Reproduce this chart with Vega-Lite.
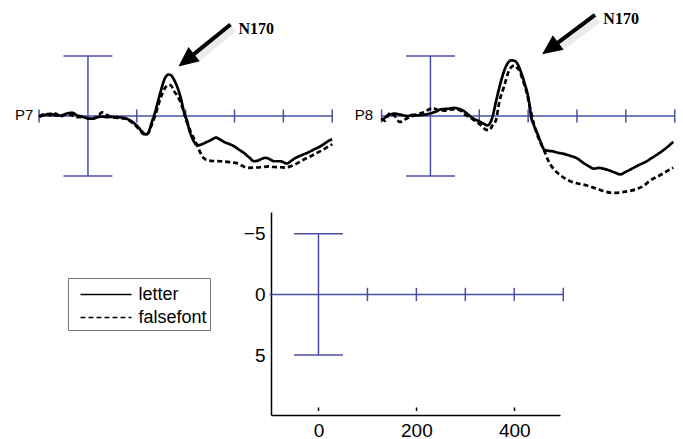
{
  "$schema": "https://vega.github.io/schema/vega-lite/v6.json",
  "padding": 0,
  "background": "white",
  "spacing": 12,
  "datasets": {
    "guides": [
      {"t": -100, "t2": 500, "v": 0, "v2": 0},
      {"t": 0, "t2": 0, "v": -5, "v2": 5},
      {"t": -50, "t2": 50, "v": -5, "v2": -5},
      {"t": -50, "t2": 50, "v": 5, "v2": 5},
      {"t": -100, "t2": -100, "v": -0.55, "v2": 0.55},
      {"t": 100, "t2": 100, "v": -0.55, "v2": 0.55},
      {"t": 200, "t2": 200, "v": -0.55, "v2": 0.55},
      {"t": 300, "t2": 300, "v": -0.55, "v2": 0.55},
      {"t": 400, "t2": 400, "v": -0.55, "v2": 0.55},
      {"t": 500, "t2": 500, "v": -0.55, "v2": 0.55}
    ],
    "arrows": [
      {"panel": "P7", "t": 291.8, "v": -7.63, "tb": 209.3, "vb": -4.91, "tt": 185.3, "vt": -4.13},
      {"panel": "P8", "t": 336.9, "v": -8.42, "tb": 253.5, "vb": -5.88, "tt": 228.7, "vt": -5.14}
    ],
    "labels": [
      {"panel": "P7", "kind": "channel", "t": -111.6, "v": -0.1, "text": "P7"},
      {"panel": "P7", "kind": "peak", "t": 308.2, "v": -7.29, "text": "N170"},
      {"panel": "P8", "kind": "channel", "t": -117.5, "v": -0.1, "text": "P8"},
      {"panel": "P8", "kind": "peak", "t": 354, "v": -8.08, "text": "N170"}
    ],
    "erp": [
      {"panel": "P7", "condition": "letter", "t": -100, "v": 0.07},
      {"panel": "P7", "condition": "letter", "t": -88, "v": -0.1},
      {"panel": "P7", "condition": "letter", "t": -77, "v": -0.18},
      {"panel": "P7", "condition": "letter", "t": -66, "v": -0.05},
      {"panel": "P7", "condition": "letter", "t": -56, "v": -0.04},
      {"panel": "P7", "condition": "letter", "t": -44, "v": -0.2},
      {"panel": "P7", "condition": "letter", "t": -32, "v": -0.27},
      {"panel": "P7", "condition": "letter", "t": -22, "v": -0.05},
      {"panel": "P7", "condition": "letter", "t": -15, "v": 0.02},
      {"panel": "P7", "condition": "letter", "t": -4, "v": 0.15},
      {"panel": "P7", "condition": "letter", "t": 9, "v": 0.23},
      {"panel": "P7", "condition": "letter", "t": 20, "v": 0.1},
      {"panel": "P7", "condition": "letter", "t": 29, "v": 0.05},
      {"panel": "P7", "condition": "letter", "t": 38, "v": 0.1},
      {"panel": "P7", "condition": "letter", "t": 46, "v": 0.07},
      {"panel": "P7", "condition": "letter", "t": 60, "v": 0.1},
      {"panel": "P7", "condition": "letter", "t": 73, "v": 0.15},
      {"panel": "P7", "condition": "letter", "t": 87, "v": 0.38},
      {"panel": "P7", "condition": "letter", "t": 101, "v": 0.85},
      {"panel": "P7", "condition": "letter", "t": 112, "v": 1.35},
      {"panel": "P7", "condition": "letter", "t": 118, "v": 1.54},
      {"panel": "P7", "condition": "letter", "t": 124, "v": 1.35},
      {"panel": "P7", "condition": "letter", "t": 130, "v": 0.6},
      {"panel": "P7", "condition": "letter", "t": 138, "v": -0.4},
      {"panel": "P7", "condition": "letter", "t": 148, "v": -1.93},
      {"panel": "P7", "condition": "letter", "t": 158, "v": -3.18},
      {"panel": "P7", "condition": "letter", "t": 165, "v": -3.46},
      {"panel": "P7", "condition": "letter", "t": 170, "v": -3.4},
      {"panel": "P7", "condition": "letter", "t": 176, "v": -3.04},
      {"panel": "P7", "condition": "letter", "t": 183, "v": -2.4},
      {"panel": "P7", "condition": "letter", "t": 189, "v": -1.65},
      {"panel": "P7", "condition": "letter", "t": 199, "v": 0.02},
      {"panel": "P7", "condition": "letter", "t": 203, "v": 0.4},
      {"panel": "P7", "condition": "letter", "t": 207, "v": 1.1},
      {"panel": "P7", "condition": "letter", "t": 212, "v": 1.7},
      {"panel": "P7", "condition": "letter", "t": 218, "v": 2.2},
      {"panel": "P7", "condition": "letter", "t": 224, "v": 2.45},
      {"panel": "P7", "condition": "letter", "t": 230, "v": 2.4},
      {"panel": "P7", "condition": "letter", "t": 244, "v": 2.15},
      {"panel": "P7", "condition": "letter", "t": 252, "v": 2.0},
      {"panel": "P7", "condition": "letter", "t": 262, "v": 1.8},
      {"panel": "P7", "condition": "letter", "t": 270, "v": 1.95},
      {"panel": "P7", "condition": "letter", "t": 278, "v": 2.15},
      {"panel": "P7", "condition": "letter", "t": 290, "v": 2.35},
      {"panel": "P7", "condition": "letter", "t": 299, "v": 2.52},
      {"panel": "P7", "condition": "letter", "t": 309, "v": 2.8},
      {"panel": "P7", "condition": "letter", "t": 319, "v": 3.07},
      {"panel": "P7", "condition": "letter", "t": 330, "v": 3.45},
      {"panel": "P7", "condition": "letter", "t": 340, "v": 3.77},
      {"panel": "P7", "condition": "letter", "t": 350, "v": 3.68},
      {"panel": "P7", "condition": "letter", "t": 357, "v": 3.55},
      {"panel": "P7", "condition": "letter", "t": 364, "v": 3.48},
      {"panel": "P7", "condition": "letter", "t": 372, "v": 3.6},
      {"panel": "P7", "condition": "letter", "t": 381, "v": 3.77},
      {"panel": "P7", "condition": "letter", "t": 394, "v": 3.77},
      {"panel": "P7", "condition": "letter", "t": 400, "v": 3.85},
      {"panel": "P7", "condition": "letter", "t": 407, "v": 3.96},
      {"panel": "P7", "condition": "letter", "t": 414, "v": 3.8},
      {"panel": "P7", "condition": "letter", "t": 422, "v": 3.57},
      {"panel": "P7", "condition": "letter", "t": 435, "v": 3.3},
      {"panel": "P7", "condition": "letter", "t": 449, "v": 3.07},
      {"panel": "P7", "condition": "letter", "t": 462, "v": 2.8},
      {"panel": "P7", "condition": "letter", "t": 476, "v": 2.52},
      {"panel": "P7", "condition": "letter", "t": 486, "v": 2.25},
      {"panel": "P7", "condition": "letter", "t": 495, "v": 2.02},
      {"panel": "P7", "condition": "letter", "t": 500, "v": 1.95},
      {"panel": "P7", "condition": "falsefont", "t": -100, "v": 0.05},
      {"panel": "P7", "condition": "falsefont", "t": -88, "v": -0.15},
      {"panel": "P7", "condition": "falsefont", "t": -77, "v": -0.05},
      {"panel": "P7", "condition": "falsefont", "t": -66, "v": -0.2},
      {"panel": "P7", "condition": "falsefont", "t": -56, "v": 0.05},
      {"panel": "P7", "condition": "falsefont", "t": -44, "v": -0.15},
      {"panel": "P7", "condition": "falsefont", "t": -32, "v": -0.05},
      {"panel": "P7", "condition": "falsefont", "t": -22, "v": 0.1},
      {"panel": "P7", "condition": "falsefont", "t": -10, "v": 0.1},
      {"panel": "P7", "condition": "falsefont", "t": 0, "v": 0.2},
      {"panel": "P7", "condition": "falsefont", "t": 10, "v": 0.2},
      {"panel": "P7", "condition": "falsefont", "t": 20, "v": 0.0},
      {"panel": "P7", "condition": "falsefont", "t": 29, "v": -0.3},
      {"panel": "P7", "condition": "falsefont", "t": 38, "v": -0.1},
      {"panel": "P7", "condition": "falsefont", "t": 46, "v": 0.05},
      {"panel": "P7", "condition": "falsefont", "t": 60, "v": 0.15},
      {"panel": "P7", "condition": "falsefont", "t": 73, "v": 0.2},
      {"panel": "P7", "condition": "falsefont", "t": 87, "v": 0.45},
      {"panel": "P7", "condition": "falsefont", "t": 101, "v": 0.95},
      {"panel": "P7", "condition": "falsefont", "t": 112, "v": 1.45},
      {"panel": "P7", "condition": "falsefont", "t": 118, "v": 1.6},
      {"panel": "P7", "condition": "falsefont", "t": 124, "v": 1.4},
      {"panel": "P7", "condition": "falsefont", "t": 130, "v": 0.8},
      {"panel": "P7", "condition": "falsefont", "t": 138, "v": -0.1},
      {"panel": "P7", "condition": "falsefont", "t": 148, "v": -1.4},
      {"panel": "P7", "condition": "falsefont", "t": 158, "v": -2.35},
      {"panel": "P7", "condition": "falsefont", "t": 165, "v": -2.6},
      {"panel": "P7", "condition": "falsefont", "t": 170, "v": -2.55},
      {"panel": "P7", "condition": "falsefont", "t": 176, "v": -2.07},
      {"panel": "P7", "condition": "falsefont", "t": 183, "v": -1.7},
      {"panel": "P7", "condition": "falsefont", "t": 189, "v": -1.2},
      {"panel": "P7", "condition": "falsefont", "t": 199, "v": 0.0},
      {"panel": "P7", "condition": "falsefont", "t": 205, "v": 0.8},
      {"panel": "P7", "condition": "falsefont", "t": 210, "v": 1.3},
      {"panel": "P7", "condition": "falsefont", "t": 216, "v": 1.8},
      {"panel": "P7", "condition": "falsefont", "t": 222, "v": 2.3},
      {"panel": "P7", "condition": "falsefont", "t": 230, "v": 3.05},
      {"panel": "P7", "condition": "falsefont", "t": 237, "v": 3.5},
      {"panel": "P7", "condition": "falsefont", "t": 244, "v": 3.68},
      {"panel": "P7", "condition": "falsefont", "t": 255, "v": 3.75},
      {"panel": "P7", "condition": "falsefont", "t": 271, "v": 3.77},
      {"panel": "P7", "condition": "falsefont", "t": 290, "v": 3.85},
      {"panel": "P7", "condition": "falsefont", "t": 306, "v": 3.95},
      {"panel": "P7", "condition": "falsefont", "t": 316, "v": 4.15},
      {"panel": "P7", "condition": "falsefont", "t": 326, "v": 4.32},
      {"panel": "P7", "condition": "falsefont", "t": 340, "v": 4.3},
      {"panel": "P7", "condition": "falsefont", "t": 353, "v": 4.27},
      {"panel": "P7", "condition": "falsefont", "t": 370, "v": 4.2},
      {"panel": "P7", "condition": "falsefont", "t": 380, "v": 4.25},
      {"panel": "P7", "condition": "falsefont", "t": 394, "v": 4.27},
      {"panel": "P7", "condition": "falsefont", "t": 405, "v": 4.3},
      {"panel": "P7", "condition": "falsefont", "t": 415, "v": 4.18},
      {"panel": "P7", "condition": "falsefont", "t": 428, "v": 3.95},
      {"panel": "P7", "condition": "falsefont", "t": 442, "v": 3.63},
      {"panel": "P7", "condition": "falsefont", "t": 456, "v": 3.35},
      {"panel": "P7", "condition": "falsefont", "t": 469, "v": 3.07},
      {"panel": "P7", "condition": "falsefont", "t": 482, "v": 2.8},
      {"panel": "P7", "condition": "falsefont", "t": 493, "v": 2.52},
      {"panel": "P7", "condition": "falsefont", "t": 500, "v": 2.35},
      {"panel": "P8", "condition": "letter", "t": -100, "v": 0.36},
      {"panel": "P8", "condition": "letter", "t": -93, "v": 0.15},
      {"panel": "P8", "condition": "letter", "t": -87, "v": -0.06},
      {"panel": "P8", "condition": "letter", "t": -73, "v": -0.2},
      {"panel": "P8", "condition": "letter", "t": -60, "v": -0.1},
      {"panel": "P8", "condition": "letter", "t": -46, "v": 0.0},
      {"panel": "P8", "condition": "letter", "t": -36, "v": -0.1},
      {"panel": "P8", "condition": "letter", "t": -26, "v": -0.06},
      {"panel": "P8", "condition": "letter", "t": -14, "v": -0.1},
      {"panel": "P8", "condition": "letter", "t": -2, "v": -0.2},
      {"panel": "P8", "condition": "letter", "t": 10, "v": -0.35},
      {"panel": "P8", "condition": "letter", "t": 22, "v": -0.56},
      {"panel": "P8", "condition": "letter", "t": 35, "v": -0.6},
      {"panel": "P8", "condition": "letter", "t": 49, "v": -0.67},
      {"panel": "P8", "condition": "letter", "t": 58, "v": -0.6},
      {"panel": "P8", "condition": "letter", "t": 66, "v": -0.47},
      {"panel": "P8", "condition": "letter", "t": 75, "v": -0.2},
      {"panel": "P8", "condition": "letter", "t": 83, "v": 0.08},
      {"panel": "P8", "condition": "letter", "t": 92, "v": 0.3},
      {"panel": "P8", "condition": "letter", "t": 100, "v": 0.44},
      {"panel": "P8", "condition": "letter", "t": 109, "v": 0.65},
      {"panel": "P8", "condition": "letter", "t": 117, "v": 0.78},
      {"panel": "P8", "condition": "letter", "t": 122, "v": 0.6},
      {"panel": "P8", "condition": "letter", "t": 127, "v": 0.08},
      {"panel": "P8", "condition": "letter", "t": 134, "v": -1.17},
      {"panel": "P8", "condition": "letter", "t": 144, "v": -2.83},
      {"panel": "P8", "condition": "letter", "t": 154, "v": -4.08},
      {"panel": "P8", "condition": "letter", "t": 160, "v": -4.5},
      {"panel": "P8", "condition": "letter", "t": 166, "v": -4.64},
      {"panel": "P8", "condition": "letter", "t": 172, "v": -4.6},
      {"panel": "P8", "condition": "letter", "t": 178, "v": -4.36},
      {"panel": "P8", "condition": "letter", "t": 185, "v": -3.7},
      {"panel": "P8", "condition": "letter", "t": 192, "v": -2.83},
      {"panel": "P8", "condition": "letter", "t": 202, "v": -1.17},
      {"panel": "P8", "condition": "letter", "t": 206, "v": 0.02},
      {"panel": "P8", "condition": "letter", "t": 212, "v": 0.8},
      {"panel": "P8", "condition": "letter", "t": 219, "v": 1.47},
      {"panel": "P8", "condition": "letter", "t": 226, "v": 2.2},
      {"panel": "P8", "condition": "letter", "t": 233, "v": 2.8},
      {"panel": "P8", "condition": "letter", "t": 241, "v": 2.9},
      {"panel": "P8", "condition": "letter", "t": 250, "v": 2.94},
      {"panel": "P8", "condition": "letter", "t": 260, "v": 3.05},
      {"panel": "P8", "condition": "letter", "t": 270, "v": 3.13},
      {"panel": "P8", "condition": "letter", "t": 285, "v": 3.3},
      {"panel": "P8", "condition": "letter", "t": 301, "v": 3.55},
      {"panel": "P8", "condition": "letter", "t": 311, "v": 3.85},
      {"panel": "P8", "condition": "letter", "t": 321, "v": 4.11},
      {"panel": "P8", "condition": "letter", "t": 335, "v": 4.38},
      {"panel": "P8", "condition": "letter", "t": 345, "v": 4.33},
      {"panel": "P8", "condition": "letter", "t": 355, "v": 4.4},
      {"panel": "P8", "condition": "letter", "t": 365, "v": 4.52},
      {"panel": "P8", "condition": "letter", "t": 377, "v": 4.7},
      {"panel": "P8", "condition": "letter", "t": 389, "v": 4.86},
      {"panel": "P8", "condition": "letter", "t": 400, "v": 4.65},
      {"panel": "P8", "condition": "letter", "t": 413, "v": 4.38},
      {"panel": "P8", "condition": "letter", "t": 426, "v": 4.1},
      {"panel": "P8", "condition": "letter", "t": 440, "v": 3.83},
      {"panel": "P8", "condition": "letter", "t": 453, "v": 3.5},
      {"panel": "P8", "condition": "letter", "t": 467, "v": 3.13},
      {"panel": "P8", "condition": "letter", "t": 480, "v": 2.75},
      {"panel": "P8", "condition": "letter", "t": 493, "v": 2.3},
      {"panel": "P8", "condition": "letter", "t": 497, "v": 2.15},
      {"panel": "P8", "condition": "falsefont", "t": -100, "v": 0.2},
      {"panel": "P8", "condition": "falsefont", "t": -93, "v": 0.4},
      {"panel": "P8", "condition": "falsefont", "t": -84, "v": -0.2},
      {"panel": "P8", "condition": "falsefont", "t": -73, "v": 0.0},
      {"panel": "P8", "condition": "falsefont", "t": -63, "v": 0.5},
      {"panel": "P8", "condition": "falsefont", "t": -53, "v": 0.3},
      {"panel": "P8", "condition": "falsefont", "t": -43, "v": 0.1},
      {"panel": "P8", "condition": "falsefont", "t": -30, "v": -0.1},
      {"panel": "P8", "condition": "falsefont", "t": -15, "v": -0.3},
      {"panel": "P8", "condition": "falsefont", "t": -5, "v": -0.5},
      {"panel": "P8", "condition": "falsefont", "t": 4, "v": -0.67},
      {"panel": "P8", "condition": "falsefont", "t": 15, "v": -0.5},
      {"panel": "P8", "condition": "falsefont", "t": 29, "v": -0.45},
      {"panel": "P8", "condition": "falsefont", "t": 45, "v": -0.55},
      {"panel": "P8", "condition": "falsefont", "t": 59, "v": -0.5},
      {"panel": "P8", "condition": "falsefont", "t": 72, "v": -0.1},
      {"panel": "P8", "condition": "falsefont", "t": 84, "v": 0.2},
      {"panel": "P8", "condition": "falsefont", "t": 95, "v": 0.5},
      {"panel": "P8", "condition": "falsefont", "t": 104, "v": 0.8},
      {"panel": "P8", "condition": "falsefont", "t": 112, "v": 1.1},
      {"panel": "P8", "condition": "falsefont", "t": 120, "v": 1.19},
      {"panel": "P8", "condition": "falsefont", "t": 127, "v": 0.8},
      {"panel": "P8", "condition": "falsefont", "t": 134, "v": 0.36},
      {"panel": "P8", "condition": "falsefont", "t": 141, "v": -1.17},
      {"panel": "P8", "condition": "falsefont", "t": 151, "v": -2.5},
      {"panel": "P8", "condition": "falsefont", "t": 161, "v": -3.8},
      {"panel": "P8", "condition": "falsefont", "t": 168, "v": -4.15},
      {"panel": "P8", "condition": "falsefont", "t": 172, "v": -4.2},
      {"panel": "P8", "condition": "falsefont", "t": 177, "v": -4.05},
      {"panel": "P8", "condition": "falsefont", "t": 182, "v": -3.8},
      {"panel": "P8", "condition": "falsefont", "t": 189, "v": -3.0},
      {"panel": "P8", "condition": "falsefont", "t": 196, "v": -2.1},
      {"panel": "P8", "condition": "falsefont", "t": 206, "v": -0.3},
      {"panel": "P8", "condition": "falsefont", "t": 212, "v": 0.7},
      {"panel": "P8", "condition": "falsefont", "t": 219, "v": 1.6},
      {"panel": "P8", "condition": "falsefont", "t": 226, "v": 2.3},
      {"panel": "P8", "condition": "falsefont", "t": 233, "v": 2.9},
      {"panel": "P8", "condition": "falsefont", "t": 241, "v": 3.7},
      {"panel": "P8", "condition": "falsefont", "t": 250, "v": 4.3},
      {"panel": "P8", "condition": "falsefont", "t": 265, "v": 4.9},
      {"panel": "P8", "condition": "falsefont", "t": 284, "v": 5.4},
      {"panel": "P8", "condition": "falsefont", "t": 300, "v": 5.6},
      {"panel": "P8", "condition": "falsefont", "t": 318, "v": 5.77},
      {"panel": "P8", "condition": "falsefont", "t": 332, "v": 5.95},
      {"panel": "P8", "condition": "falsefont", "t": 345, "v": 6.13},
      {"panel": "P8", "condition": "falsefont", "t": 358, "v": 6.3},
      {"panel": "P8", "condition": "falsefont", "t": 372, "v": 6.4},
      {"panel": "P8", "condition": "falsefont", "t": 386, "v": 6.38},
      {"panel": "P8", "condition": "falsefont", "t": 399, "v": 6.3},
      {"panel": "P8", "condition": "falsefont", "t": 413, "v": 6.2},
      {"panel": "P8", "condition": "falsefont", "t": 426, "v": 6.03},
      {"panel": "P8", "condition": "falsefont", "t": 437, "v": 5.8},
      {"panel": "P8", "condition": "falsefont", "t": 447, "v": 5.47},
      {"panel": "P8", "condition": "falsefont", "t": 457, "v": 5.2},
      {"panel": "P8", "condition": "falsefont", "t": 467, "v": 5.0},
      {"panel": "P8", "condition": "falsefont", "t": 480, "v": 4.7},
      {"panel": "P8", "condition": "falsefont", "t": 493, "v": 4.38},
      {"panel": "P8", "condition": "falsefont", "t": 497, "v": 4.3}
    ]
  },
  "vconcat": [
    {
      "spacing": 0,
      "bounds": "flush",
      "hconcat": [
        {
          "width": 342,
          "height": 200,
          "layer": [
            {
              "data": {"name": "guides"},
              "mark": {"type": "rule", "color": "#4a4fa3", "strokeWidth": 1.5},
              "encoding": {
                "x": {"field": "t", "type": "quantitative", "scale": {"domain": [-180, 520], "nice": false, "zero": false}, "axis": null},
                "x2": {"field": "t2"},
                "y": {"field": "v", "type": "quantitative", "scale": {"domain": [-9.667, 7], "reverse": true, "nice": false, "zero": false}, "axis": null},
                "y2": {"field": "v2"}
              }
            },
            {
              "data": {"name": "erp"},
              "transform": [{"filter": "datum.panel === 'P7'"}],
              "mark": {"type": "line", "color": "black", "strokeWidth": 2.7, "interpolate": "monotone"},
              "encoding": {
                "x": {"field": "t", "type": "quantitative"},
                "y": {"field": "v", "type": "quantitative"},
                "strokeDash": {
                  "field": "condition", "type": "nominal",
                  "scale": {"domain": ["letter", "falsefont"], "range": [[1, 0], [5, 3]]},
                  "legend": {
                    "title": null, "orient": "none", "legendX": 68, "legendY": 278, "direction": "vertical",
                    "symbolType": "M-2.04,0H2.04", "symbolSize": 625, "symbolStrokeWidth": 1.5, "symbolStrokeColor": "black",
                    "symbolFillColor": "transparent", "strokeColor": "#777", "padding": 3,
                    "labelFont": "Liberation Sans", "labelFontSize": 18, "labelColor": "black",
                    "rowPadding": 0, "labelOffset": 19, "symbolOffset": 21.5
                  }
                }
              }
            },
            {
              "data": {"name": "arrows"},
              "transform": [{"filter": "datum.panel === 'P7'"}],
              "mark": {"type": "rule", "color": "#000", "opacity": 0.08, "strokeWidth": 8, "xOffset": 3, "yOffset": 4, "x2Offset": 3, "y2Offset": 4},
              "encoding": {"x": {"field": "t", "type": "quantitative"}, "y": {"field": "v", "type": "quantitative"}, "x2": {"field": "tb"}, "y2": {"field": "vb"}}
            },
            {
              "data": {"name": "arrows"},
              "transform": [{"filter": "datum.panel === 'P7'"}],
              "mark": {"type": "rule", "color": "black", "strokeWidth": 4},
              "encoding": {"x": {"field": "t", "type": "quantitative"}, "y": {"field": "v", "type": "quantitative"}, "x2": {"field": "tb"}, "y2": {"field": "vb"}}
            },
            {
              "data": {"name": "arrows"},
              "transform": [{"filter": "datum.panel === 'P7'"}],
              "mark": {"type": "point", "shape": "M0,0L-0.55,1.2L0.55,1.2Z", "size": 1100, "filled": true, "color": "black", "opacity": 1, "angle": 231.7},
              "encoding": {"x": {"field": "tt", "type": "quantitative"}, "y": {"field": "vt", "type": "quantitative"}}
            },
            {
              "data": {"name": "labels"},
              "transform": [{"filter": "datum.panel === 'P7' && datum.kind === 'channel'"}],
              "mark": {"type": "text", "align": "right", "baseline": "middle", "font": "Liberation Sans", "fontSize": 15, "color": "black"},
              "encoding": {"x": {"field": "t", "type": "quantitative"}, "y": {"field": "v", "type": "quantitative"}, "text": {"field": "text"}}
            },
            {
              "data": {"name": "labels"},
              "transform": [{"filter": "datum.panel === 'P7' && datum.kind === 'peak'"}],
              "mark": {"type": "text", "align": "left", "baseline": "middle", "font": "Liberation Serif", "fontWeight": "bold", "fontSize": 16, "color": "black"},
              "encoding": {"x": {"field": "t", "type": "quantitative"}, "y": {"field": "v", "type": "quantitative"}, "text": {"field": "text"}}
            }
          ]
        },
        {
          "width": 341,
          "height": 200,
          "layer": [
            {
              "data": {"name": "guides"},
              "mark": {"type": "rule", "color": "#4a4fa3", "strokeWidth": 1.5},
              "encoding": {
                "x": {"field": "t", "type": "quantitative", "scale": {"domain": [-181, 517], "nice": false, "zero": false}, "axis": null},
                "x2": {"field": "t2"},
                "y": {"field": "v", "type": "quantitative", "scale": {"domain": [-9.667, 7], "reverse": true, "nice": false, "zero": false}, "axis": null},
                "y2": {"field": "v2"}
              }
            },
            {
              "data": {"name": "erp"},
              "transform": [{"filter": "datum.panel === 'P8'"}],
              "mark": {"type": "line", "color": "black", "strokeWidth": 2.7, "interpolate": "monotone"},
              "encoding": {
                "x": {"field": "t", "type": "quantitative"},
                "y": {"field": "v", "type": "quantitative"},
                "strokeDash": {
                  "field": "condition", "type": "nominal",
                  "scale": {"domain": ["letter", "falsefont"], "range": [[1, 0], [5, 3]]},
                  "legend": null
                }
              }
            },
            {
              "data": {"name": "arrows"},
              "transform": [{"filter": "datum.panel === 'P8'"}],
              "mark": {"type": "rule", "color": "#000", "opacity": 0.08, "strokeWidth": 8, "xOffset": 3, "yOffset": 4, "x2Offset": 3, "y2Offset": 4},
              "encoding": {"x": {"field": "t", "type": "quantitative"}, "y": {"field": "v", "type": "quantitative"}, "x2": {"field": "tb"}, "y2": {"field": "vb"}}
            },
            {
              "data": {"name": "arrows"},
              "transform": [{"filter": "datum.panel === 'P8'"}],
              "mark": {"type": "rule", "color": "black", "strokeWidth": 4},
              "encoding": {"x": {"field": "t", "type": "quantitative"}, "y": {"field": "v", "type": "quantitative"}, "x2": {"field": "tb"}, "y2": {"field": "vb"}}
            },
            {
              "data": {"name": "arrows"},
              "transform": [{"filter": "datum.panel === 'P8'"}],
              "mark": {"type": "point", "shape": "M0,0L-0.55,1.2L0.55,1.2Z", "size": 1100, "filled": true, "color": "black", "opacity": 1, "angle": 233.6},
              "encoding": {"x": {"field": "tt", "type": "quantitative"}, "y": {"field": "vt", "type": "quantitative"}}
            },
            {
              "data": {"name": "labels"},
              "transform": [{"filter": "datum.panel === 'P8' && datum.kind === 'channel'"}],
              "mark": {"type": "text", "align": "right", "baseline": "middle", "font": "Liberation Sans", "fontSize": 15, "color": "black"},
              "encoding": {"x": {"field": "t", "type": "quantitative"}, "y": {"field": "v", "type": "quantitative"}, "text": {"field": "text"}}
            },
            {
              "data": {"name": "labels"},
              "transform": [{"filter": "datum.panel === 'P8' && datum.kind === 'peak'"}],
              "mark": {"type": "text", "align": "left", "baseline": "middle", "font": "Liberation Serif", "fontWeight": "bold", "fontSize": 16, "color": "black"},
              "encoding": {"x": {"field": "t", "type": "quantitative"}, "y": {"field": "v", "type": "quantitative"}, "text": {"field": "text"}}
            }
          ]
        }
      ]
    },
    {
      "spacing": 0,
      "bounds": "flush",
      "hconcat": [
        {
          "width": 271,
          "height": 203,
          "data": {"values": []},
          "mark": "point",
          "encoding": {}
        },
        {
          "width": 289,
          "height": 203,
          "data": {"name": "guides"},
          "transform": [{"filter": "datum.t > -100 || datum.t2 > -100"}],
          "mark": {"type": "rule", "color": "#4a4fa3", "strokeWidth": 1.5},
          "encoding": {
            "x": {
              "field": "t", "type": "quantitative",
              "scale": {"domain": [-97, 493.4], "nice": false, "zero": false},
              "axis": {"values": [0, 200, 400], "title": null, "grid": false, "tickSize": -8, "tickDash": [0, 4.5, 3.5, 20], "tickColor": "black", "tickWidth": 1.5,
                       "domainColor": "black", "domainWidth": 1.5, "labelFont": "Liberation Sans", "labelFontSize": 19,
                       "labelColor": "black", "labelPadding": 14}
            },
            "x2": {"field": "t2"},
            "y": {
              "field": "v", "type": "quantitative",
              "scale": {"domain": [-6.8, 9.94], "reverse": true, "nice": false, "zero": false},
              "axis": {"values": [-5, 0, 5], "title": null, "grid": false, "ticks": false,
                       "domainColor": "black", "domainWidth": 1.5, "labelFont": "Liberation Sans", "labelFontSize": 19,
                       "labelColor": "black", "labelPadding": 6}
            },
            "y2": {"field": "v2"}
          }
        }
      ]
    }
  ],
  "config": {
    "view": {"stroke": null},
    "font": "Liberation Sans"
  }
}
